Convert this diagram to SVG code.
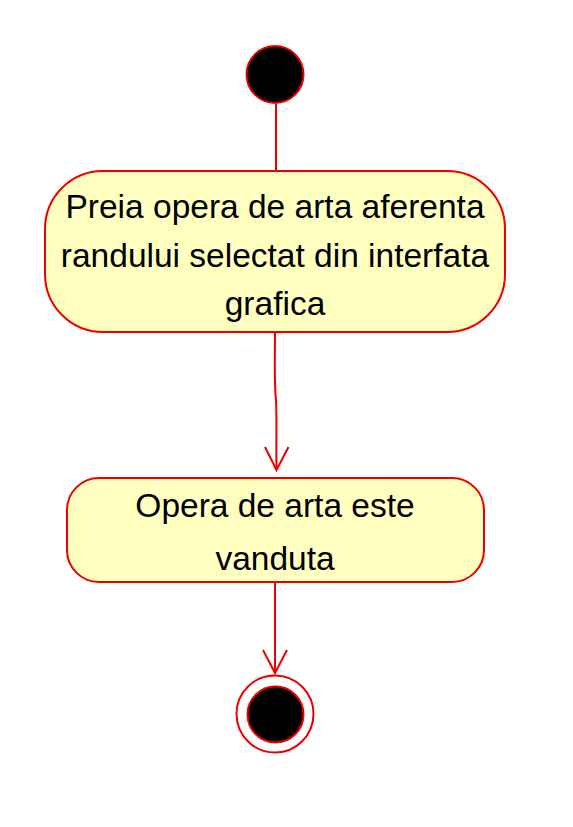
<svg xmlns="http://www.w3.org/2000/svg" width="573" height="827" viewBox="0 0 573 827">
<style>
.act{fill:#ffffc0;stroke:#ee0000;stroke-width:2}
.lbl{font-family:"Liberation Sans",Arial,sans-serif;font-size:33.5px;fill:#000;text-anchor:middle}
.edge{fill:none;stroke:#ee0000;stroke-width:2}
</style>
<rect width="573" height="827" fill="#fff"/>
<g id="start">
<circle cx="275" cy="74.5" r="28.5" fill="#000" stroke="#ee0000" stroke-width="2"/>
</g>
<g id="connectors">
<path class="edge" d="M276 104 L276 171"/>
<path class="edge" d="M275 332 C275 360 274 380 276 400 C277 420 276 440 276.5 470"/>
<path class="edge" d="M265 447 L276.5 470 L288.5 447"/>
<path class="edge" d="M275 582 L275 673"/>
<path class="edge" d="M263 650 L275 673 L287 650"/>
</g>
<g id="node1">
<rect class="act" x="45" y="171" width="460" height="161" rx="58" ry="58"/>
<text class="lbl" x="275" y="218">Preia opera de arta aferenta</text>
<text class="lbl" x="275" y="267">randului selectat din interfata</text>
<text class="lbl" x="275" y="315">grafica</text>
</g>
<g id="node2">
<rect class="act" x="67" y="478" width="417" height="104" rx="32" ry="32"/>
<text class="lbl" x="275" y="517">Opera de arta este</text>
<text class="lbl" x="275" y="570">vanduta</text>
</g>
<g id="end">
<circle cx="275" cy="714" r="38.5" fill="none" stroke="#ee0000" stroke-width="2"/>
<circle cx="275.5" cy="714.5" r="28" fill="#000" stroke="#ee0000" stroke-width="2"/>
</g>
</svg>
